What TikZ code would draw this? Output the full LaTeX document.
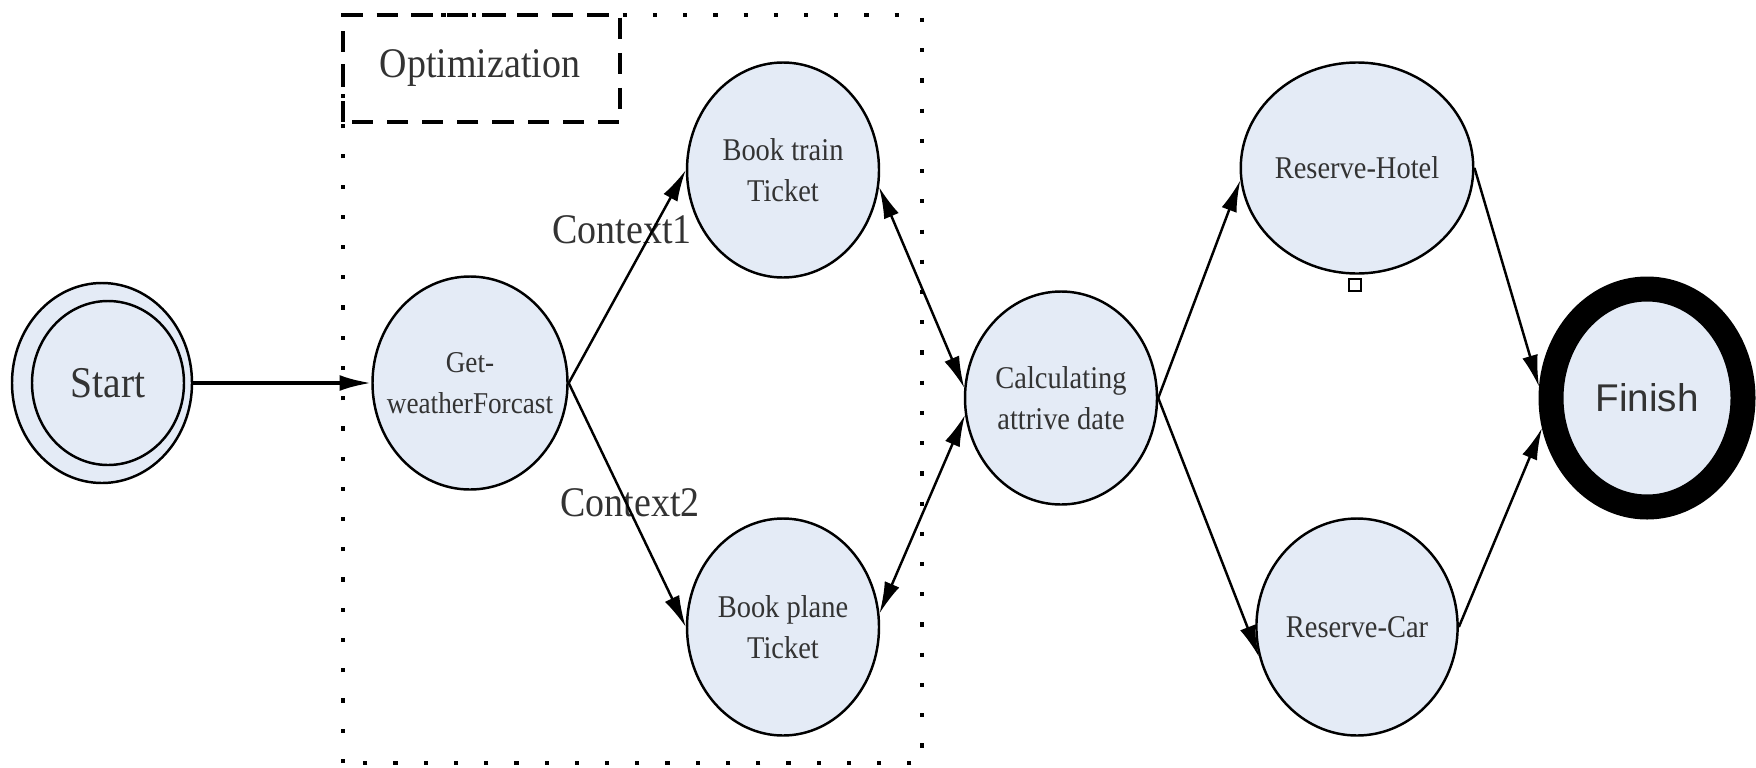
\documentclass[tikz,border=0pt]{standalone}
\usepackage{fontspec}
\setmainfont[FakeStretch=0.9]{Liberation Serif}
\newfontfamily\FinishFont{Liberation Sans}
\usetikzlibrary{shapes.geometric,arrows.meta}
\definecolor{stateblue}{RGB}{228,235,246}
\newcommand\NodeFont{\fontsize{9}{11.5}\selectfont}
\newcommand\LabelFont{\fontsize{12}{14}\selectfont}

\begin{document}
\begin{tikzpicture}[>={Latex[length=9pt,width=4.5pt]},
    state/.style={ellipse,draw,line width=0.7pt,fill=stateblue,inner sep=0pt,
        minimum width=1.92cm,minimum height=2.15cm,align=center,
        font=\NodeFont,text=black!80},
    flow/.style={->,line width=0.7pt}]
    \useasboundingbox (0,0) rectangle (17.56,7.67);
    % optimization region
    \draw[line width=1.2pt,dash pattern=on 1.2pt off 7.4pt] (3.43,0.04) rectangle (9.22,7.52);
    \draw[line width=0.9pt,dash pattern=on 6pt off 4pt] (3.43,6.45) rectangle (6.20,7.52);
    \node[font=\LabelFont,text=black!80] (OptLabel) at (4.80,6.99) {Optimization};
    % states
    \node[state,minimum width=1.80cm,minimum height=2.00cm] (Start) at (1.02,3.84) {};
    \node[state,minimum width=1.52cm,minimum height=1.64cm,
        font=\fontsize{12.5}{14}\selectfont] (StartIn) at (1.08,3.84) {Start};
    \node[state,inner xsep=-6pt,minimum width=1.95cm,minimum height=2.13cm,
        font=\fontsize{8.6}{11.5}\selectfont] (WeatherFc) at (4.70,3.84) {Get-\\weatherForcast};
    \node[state] (TrainTicket) at (7.83,5.97) {Book train\\Ticket};
    \node[state,minimum height=2.17cm] (PlaneTicket) at (7.83,1.40) {Book plane\\Ticket};
    \node[state,minimum height=2.13cm] (CalcDate) at (10.61,3.69) {Calculating\\attrive date};
    \node[state,minimum width=1.93cm,minimum height=2.11cm] (Hotel) at (13.57,5.99) {Reserve-Hotel};
    \node[state,minimum width=1.93cm,minimum height=2.17cm] (Car) at (13.57,1.40) {Reserve-Car};
    \node[state,line width=0.25cm,minimum width=1.92cm,minimum height=2.18cm,
        font=\FinishFont\fontsize{11}{13}\selectfont] (Finish) at (16.47,3.69) {Finish};
    \node[draw,fill=white,minimum size=0.12cm,inner sep=0pt,line width=0.6pt] (HotelMark) at (13.55,4.82) {};
    % context labels
    \node[font=\LabelFont,text=black!80] (CtxOne) at (6.22,5.37) {Context1};
    \node[font=\LabelFont,text=black!80] (CtxTwo) at (6.30,2.64) {Context2};
    % transitions
    \draw[flow,line width=1pt] (Start.east) -- (WeatherFc.west);
    \draw[flow] (WeatherFc.east) -- (TrainTicket.west);
    \draw[flow] (WeatherFc.east) -- (PlaneTicket.west);
    \draw[flow,<->] (TrainTicket.-10) -- (CalcDate.174);
    \draw[flow,<->] (PlaneTicket.8) -- (CalcDate.190);
    \draw[flow] (CalcDate.east) -- (Hotel.186);
    \draw[flow] (CalcDate.east) -- (Car.197);
    \draw[flow] (Hotel.east) -- (Finish.174);
    \draw[flow] (Car.east) -- (Finish.196);
\end{tikzpicture}
\end{document}
